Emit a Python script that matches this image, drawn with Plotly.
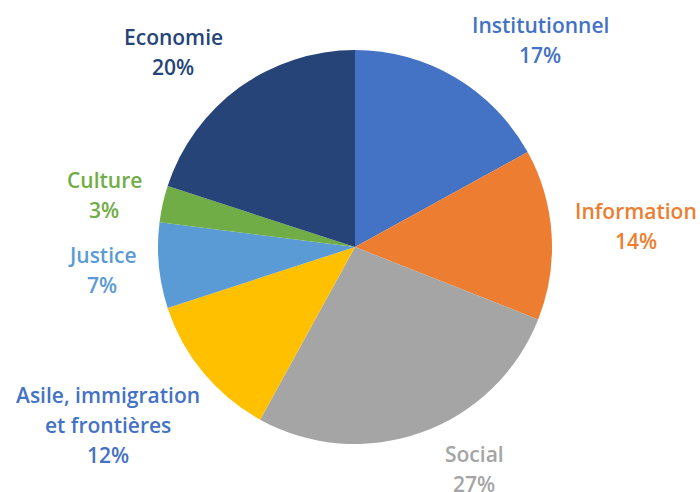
import plotly.graph_objects as go

categories = ["Institutionnel", "Information", "Social", "Asile, immigration<br>et frontières",
              "Justice", "Culture", "Economie"]
values = [17, 14, 27, 12, 7, 3, 20]
colors = ["#4472C4", "#ED7D31", "#A5A5A5", "#FFC000", "#5B9BD5", "#70AD47", "#264478"]
label_colors = ["#4472C4", "#ED7D31", "#A5A5A5", "#4472C4", "#5B9BD5", "#70AD47", "#264478"]

# label centre positions in pixels (layout only)
label_px = [(540, 40), (636, 226), (474, 469), (108, 425), (102, 270), (104, 195), (173, 52)]

W, H = 700, 492
LINE = 30

fig = go.Figure(go.Pie(
    labels=categories,
    values=values,
    marker=dict(colors=colors, line=dict(width=0)),
    sort=False,
    direction="clockwise",
    rotation=0,
    textinfo="none",
    hoverinfo="label+percent",
    domain=dict(x=[(355 - 197) / W, (355 + 197) / W], y=[1 - (247 + 197) / H, 1 - (247 - 197) / H]),
    showlegend=False,
))

total = sum(values)
annotations = []
for cat, val, col, (cx, cy) in zip(categories, values, label_colors, label_px):
    lines = cat.split("<br>") + [f"{round(100 * val / total)}%"]
    n = len(lines)
    for i, line in enumerate(lines):
        py = cy + (i - (n - 1) / 2) * LINE
        annotations.append(dict(
            x=cx / W, y=1 - py / H, xref="paper", yref="paper",
            text=line, showarrow=False,
            font=dict(family="Open Sans", size=21, color=col, weight=600),
            xanchor="center", yanchor="middle",
        ))

fig.update_layout(
    width=W, height=H,
    margin=dict(l=0, r=0, t=0, b=0),
    paper_bgcolor="white", plot_bgcolor="white",
    annotations=annotations,
)
fig.write_html("out.html", config={"displayModeBar": False},
               post_script="document.body.style.margin='0';")
